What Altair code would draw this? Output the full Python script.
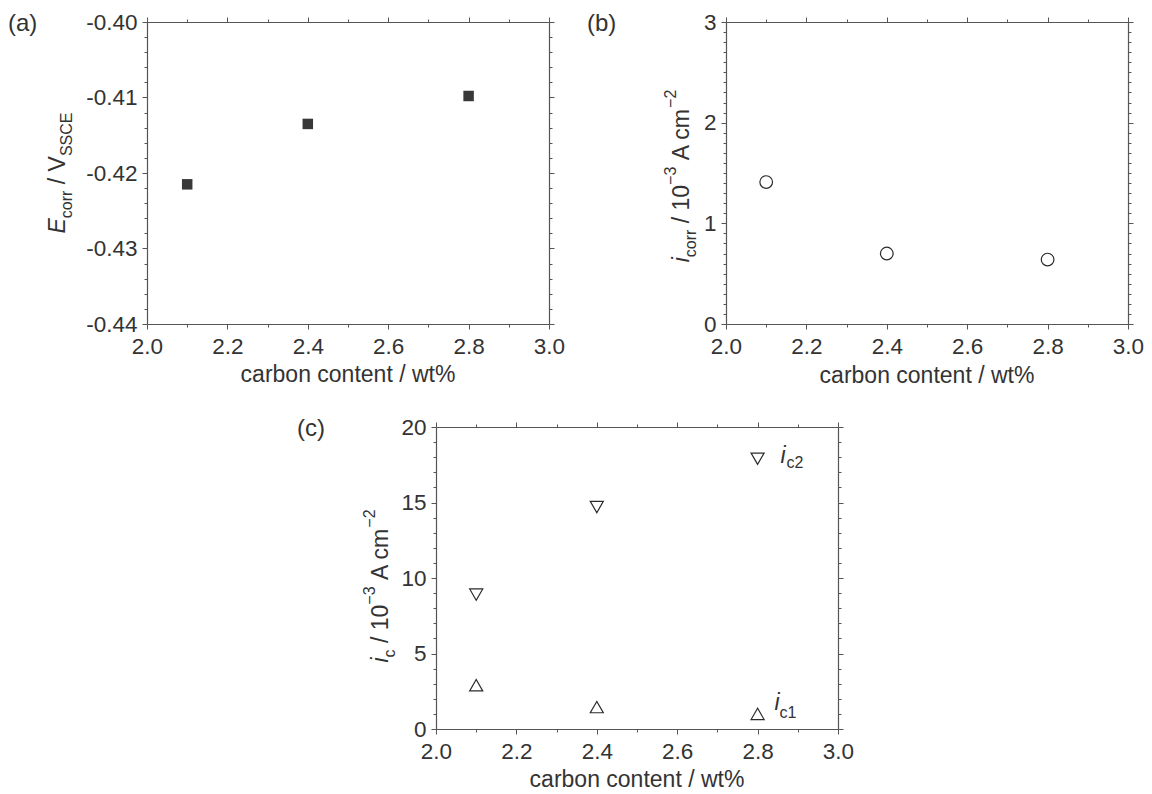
import altair as alt
import pandas as pd

FONT = "Liberation Sans"
TXT = "#333333"
AX = "#555555"
MK = "#2b2b2b"

# ---------------- data ----------------
carbon = [2.1, 2.4, 2.8]
e_corr = [-0.4215, -0.4135, -0.4098]
i_corr = [1.41, 0.70, 0.64]
i_c1 = [2.9, 1.45, 1.0]
i_c2 = [8.9, 14.7, 17.9]

x_domain = [2.0, 3.0]
x_major_step, x_minor_step = 0.2, 0.1
ya_domain = [-0.44, -0.40]
ya_major_step, ya_minor_step = 0.01, 0.002
yb_domain = [0, 3]
yb_major_step, yb_minor_step = 1, 0.1
yc_domain = [0, 20]
yc_major_step, yc_minor_step = 5, 1

W, H = 402, 302
TICK_FS = 22.5
TITLE_FS = 23
SUB_FS = 16

# Arial / Liberation Sans advance widths (per 1000 em)
CW = {" ": 278, "/": 278, "%": 889, "-": 333, "\u2212": 584, ".": 278,
      "(": 333, ")": 333, "A": 667, "C": 722, "E": 667, "S": 667, "V": 667,
      "a": 556, "b": 556, "c": 500, "e": 556, "i": 222, "m": 833, "n": 556,
      "o": 556, "r": 333, "t": 278, "w": 722}


def tw(text, size):
    return sum(CW.get(ch, 556) for ch in text) * size / 1000.0


def tick_values(domain, step):
    n = int(round((domain[1] - domain[0]) / step))
    return [round(domain[0] + i * step, 6) for i in range(n + 1)]


def make_axis(orient, domain, major, minor, fmt, labels=True, hyphen=False,
              pad=5):
    test = f"abs(datum.value/{major} - round(datum.value/{major})) < 1e-6"
    lab = f"({test}) ? format(datum.value, '{fmt}') : ''"
    if hyphen:
        lab = f"replace({lab}, '\u2212', '-')"
    return alt.Axis(
        orient=orient, values=tick_values(domain, minor), labels=labels,
        labelExpr=lab, labelOverlap=False, labelFlush=False,
        tickSize={"condition": {"test": test, "value": 5}, "value": 3},
        grid=False, domainColor=AX, domainWidth=1.2, tickColor=AX,
        tickWidth=1, labelFont=FONT, labelFontSize=TICK_FS, labelColor=TXT,
        labelPadding=pad, title=None)


one = pd.DataFrame({"k": [0]})
NOVIEW = alt.ViewBackground(stroke="transparent", strokeWidth=0)


def txt(text, x, y, size, style="normal", angle=0, align="left",
        baseline="alphabetic"):
    kw = dict(text=text, font=FONT, fontSize=size, fontStyle=style,
              color=TXT, align=align, baseline=baseline)
    if angle:
        kw["angle"] = angle
    return alt.Chart(one).mark_text(**kw).encode(x=alt.value(x), y=alt.value(y))


def ytitle(frags, base_x, center_y):
    total = sum(tw(t, s) for t, s, _, _ in frags)
    y = center_y + total / 2.0
    out = []
    for t, s, style, shift in frags:
        core = t.strip(" ")
        lead = len(t) - len(t.lstrip(" "))
        y -= tw(" " * lead, s)
        out.append(txt(core, base_x + shift, y, s, style, angle=270))
        y -= tw(t[lead:], s)
    return out


def bounds_rule(x1, x2, y1, y2):
    # invisible helper that only fixes the panel's layout extent
    return alt.Chart(one).mark_rule(
        color="white", opacity=0, strokeOpacity=0, strokeWidth=0).encode(
        x=alt.value(x1), x2=alt.value(x2), y=alt.value(y1), y2=alt.value(y2))


def panel(layers_pts, ydom, ymaj, ymin, yfmt, yhyphen, label, yt_frags,
          yt_x, yt_cy, bx2, by2, xt_y, extra=()):
    xs = alt.Scale(domain=x_domain, nice=False, zero=False)
    ys = alt.Scale(domain=ydom, nice=False, zero=False)
    first, rest = layers_pts[0], layers_pts[1:]
    df0, mark0 = first
    main = mark0(alt.Chart(df0)).encode(
        x=alt.X("c:Q", scale=xs,
                axis=make_axis("bottom", x_domain, x_major_step, x_minor_step,
                               ".1f", pad=6)),
        y=alt.Y("v:Q", scale=ys,
                axis=make_axis("left", ydom, ymaj, ymin, yfmt,
                               hyphen=yhyphen, pad=5)))
    mirror = alt.Chart(df0).mark_point(opacity=0).encode(
        x=alt.X("c:Q", scale=xs,
                axis=make_axis("top", x_domain, x_major_step, x_minor_step,
                               ".1f", labels=False)),
        y=alt.Y("v:Q", scale=ys,
                axis=make_axis("right", ydom, ymaj, ymin, yfmt, labels=False)))
    others = []
    for dfi, marki in rest:
        others.append(marki(alt.Chart(dfi)).encode(
            x=alt.X("c:Q", scale=xs, axis=None),
            y=alt.Y("v:Q", scale=ys, axis=None)))
    texts = [txt(label, -139, 9, 24),
             txt("carbon content / wt%", W / 2, H + xt_y, TITLE_FS,
                 align="center")]
    texts += ytitle(yt_frags, yt_x, yt_cy)
    return alt.layer(
        bounds_rule(-139, bx2, -12, by2), main, mirror, *others, *texts,
        *extra
    ).resolve_axis(x="independent", y="independent").properties(
        width=W, height=H, view=NOVIEW)


# ---------------- panel (a) ----------------
df_a = pd.DataFrame({"c": carbon, "v": e_corr})
pa = panel(
    [(df_a, lambda ch: ch.mark_square(size=110, color="#383838", opacity=1))],
    ya_domain, ya_major_step, ya_minor_step, ".2f", True, "(a)",
    [("E", TITLE_FS, "italic", 0), ("corr", SUB_FS, "normal", 7),
     (" / V", TITLE_FS, "normal", 0), ("SSCE", SUB_FS, "normal", 7)],
    -82, 151, W + 25, H + 66, 58)

# ---------------- panel (b) ----------------
df_b = pd.DataFrame({"c": carbon, "v": i_corr})
pb = panel(
    [(df_b, lambda ch: ch.mark_point(shape="circle", size=160, filled=False,
                                     color=MK, strokeWidth=1.2, opacity=1))],
    yb_domain, yb_major_step, yb_minor_step, "d", False, "(b)",
    [("i", TITLE_FS, "italic", 0), ("corr", SUB_FS, "normal", 7),
     (" / 10", TITLE_FS, "normal", 0), ("\u22123", SUB_FS, "normal", -13),
     (" A cm", TITLE_FS, "normal", 0), ("\u22122", SUB_FS, "normal", -13)],
    -37, 154, W + 12, H + 66, 59)

# ---------------- panel (c) ----------------
df_c1 = pd.DataFrame({"c": carbon, "v": i_c1})
df_c2 = pd.DataFrame({"c": carbon, "v": i_c2})
xs_c = alt.Scale(domain=x_domain, nice=False, zero=False)
ys_c = alt.Scale(domain=yc_domain, nice=False, zero=False)


def series_label(df, main_dx, main_dy, sub, sub_dx, sub_dy):
    last = df.tail(1)
    m = alt.Chart(last).mark_text(
        text="i", font=FONT, fontSize=TITLE_FS, fontStyle="italic", color=TXT,
        align="left", baseline="alphabetic", dx=main_dx, dy=main_dy).encode(
        x=alt.X("c:Q", scale=xs_c, axis=None),
        y=alt.Y("v:Q", scale=ys_c, axis=None))
    s = alt.Chart(last).mark_text(
        text=sub, font=FONT, fontSize=SUB_FS, color=TXT, align="left",
        baseline="alphabetic", dx=sub_dx, dy=sub_dy).encode(
        x=alt.X("c:Q", scale=xs_c, axis=None),
        y=alt.Y("v:Q", scale=ys_c, axis=None))
    return [m, s]


labels_c = series_label(df_c2, 23, 4, "c2", 29, 9) + \
    series_label(df_c1, 17, -4, "c1", 22, 4)

pc = panel(
    [(df_c1, lambda ch: ch.mark_point(shape="triangle-up", size=170,
                                      filled=False, color=MK, strokeWidth=1.2,
                                      opacity=1)),
     (df_c2, lambda ch: ch.mark_point(shape="triangle-down", size=170,
                                      filled=False, color=MK, strokeWidth=1.2,
                                      opacity=1))],
    yc_domain, yc_major_step, yc_minor_step, "d", False, "(c)",
    [("i", TITLE_FS, "italic", 0), ("c", SUB_FS, "normal", 7),
     (" / 10", TITLE_FS, "normal", 0), ("\u22123", SUB_FS, "normal", -13),
     (" A cm", TITLE_FS, "normal", 0), ("\u22122", SUB_FS, "normal", -13)],
    -48, 159, W, H, 58, extra=labels_c)

# empty spacer that pushes panel (c) to the centre of the bottom row
spacer = alt.Chart(one).mark_text(
    text=" ", color="white", opacity=0).encode(
    x=alt.value(0), y=alt.value(0)
).properties(width=150, height=1, view=NOVIEW)

top = alt.hconcat(pa, pb, spacing=13)
bottom = alt.hconcat(spacer, pc, spacing=0)
chart = alt.vconcat(top, bottom, spacing=25).properties(
    padding={"left": 0, "top": 2, "right": 0, "bottom": 0}
).configure_view(stroke="transparent", strokeWidth=0).configure(
    background="white")

chart.save("out.html", embed_options={"renderer": "svg", "actions": False})
